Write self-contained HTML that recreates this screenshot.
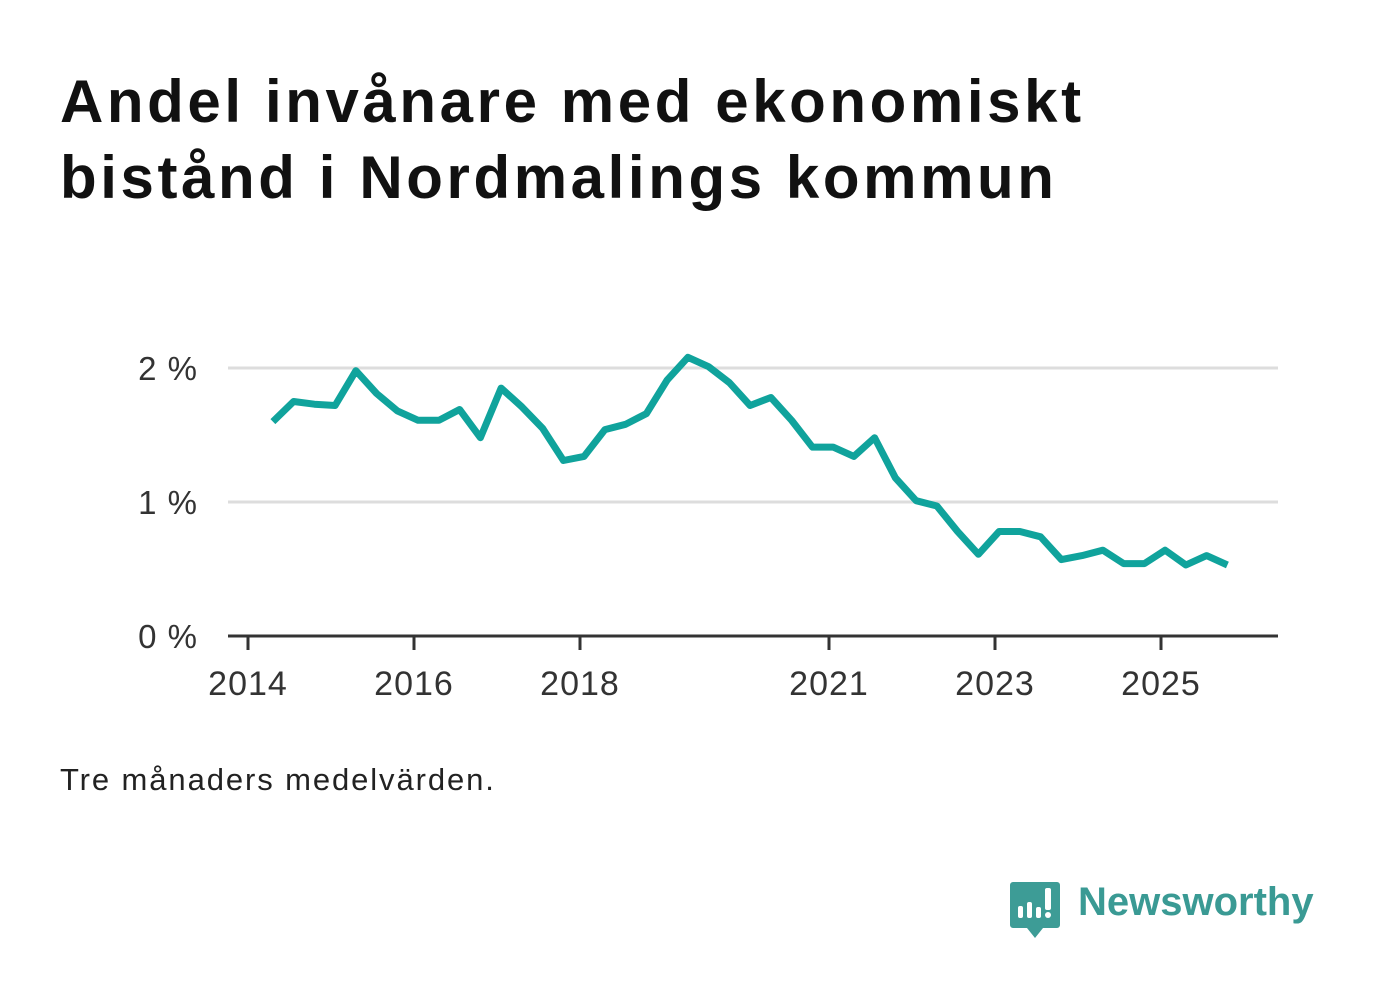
<!DOCTYPE html>
<html><head><meta charset="utf-8"><style>
body{margin:0;width:1382px;height:999px;background:#fff;font-family:"Liberation Sans","DejaVu Sans",sans-serif;overflow:hidden;position:relative}
h1{position:absolute;left:60px;top:64px;margin:0;font-size:60px;line-height:76px;font-weight:bold;color:#111;letter-spacing:3.6px}
.note{position:absolute;left:60px;top:762px;font-size:31px;color:#222;letter-spacing:1.9px}
.logo{position:absolute;left:1078px;top:880px;font-size:40px;color:#3a9a94;font-weight:bold}
</style></head><body>
<h1>Andel invånare med ekonomiskt<br>bistånd i Nordmalings kommun</h1>
<svg width="1382" height="999" style="position:absolute;left:0;top:0" id="chart"></svg>
<div class="note">Tre månaders medelvärden.</div>
<svg style="position:absolute;left:1010px;top:880px" width="52" height="60">
<path d="M3 2h44a3 3 0 0 1 3 3v40a3 3 0 0 1-3 3H33l-8 10-8-10H3a3 3 0 0 1-3-3V5a3 3 0 0 1 3-3z" fill="#3d9c96"/>
<rect x="8" y="26" width="5" height="12" rx="2" fill="#fff"/><rect x="17" y="22" width="5" height="16" rx="2" fill="#fff"/><rect x="26" y="27" width="5" height="11" rx="2" fill="#fff"/><rect x="35" y="8" width="6" height="22" rx="2" fill="#fff"/><circle cx="38" cy="35" r="3" fill="#fff"/>
</svg>
<div class="logo">Newsworthy</div>
<script>
const startYear=2014.3;
const values=[1.60,1.75,1.73,1.72,1.98,1.81,1.68,1.61,1.61,1.69,1.48,1.85,1.71,1.55,1.31,1.34,1.54,1.58,1.66,1.91,2.08,2.01,1.89,1.72,1.78,1.61,1.41,1.41,1.34,1.48,1.18,1.01,0.97,0.78,0.61,0.78,0.78,0.74,0.57,0.60,0.64,0.54,0.54,0.64,0.53,0.60,0.53];
const yTicks=[0,1,2];
const yTickLabels=["0 %","1 %","2 %"];
const xTicks=[2014,2016,2018,2021,2023,2025];
const NS="http://www.w3.org/2000/svg";
const svg=document.getElementById('chart');
const x=t=>248+(t-2014)*83;
const y=v=>636-v*134;
function mk(tag,attrs){const e=document.createElementNS(NS,tag);for(const k in attrs)e.setAttribute(k,attrs[k]);svg.appendChild(e);return e;}
yTicks.forEach((v,i)=>{
  if(v>0){const g=mk('line',{x1:228,x2:1278,y1:y(v),y2:y(v),stroke:'#dddddd','stroke-width':3});
  
  }
  const t=mk('text',{x:198,y:y(v)+12,'text-anchor':'end','font-size':33,fill:'#333','font-family':'Liberation Sans, sans-serif','letter-spacing':1});
  t.textContent=yTickLabels[i];
  
  
});
const ax=mk('line',{x1:228,x2:1278,y1:636,y2:636,stroke:'#333','stroke-width':3});


xTicks.forEach(t=>{
  const l=mk('line',{x1:x(t),x2:x(t),y1:636,y2:650,stroke:'#333','stroke-width':3});
  
  
  const tx=mk('text',{x:x(t),y:695,'text-anchor':'middle','font-size':34,fill:'#333','font-family':'Liberation Sans, sans-serif','letter-spacing':1});
  tx.textContent=t;
  
  
});
const pts=values.map((v,i)=>x(startYear+i*0.25).toFixed(1)+','+y(v).toFixed(1)).join(' ');
const pl=mk('polyline',{points:pts,fill:'none',stroke:'#10a39c','stroke-width':7,'stroke-linejoin':'round'});


</script>
</body></html>
